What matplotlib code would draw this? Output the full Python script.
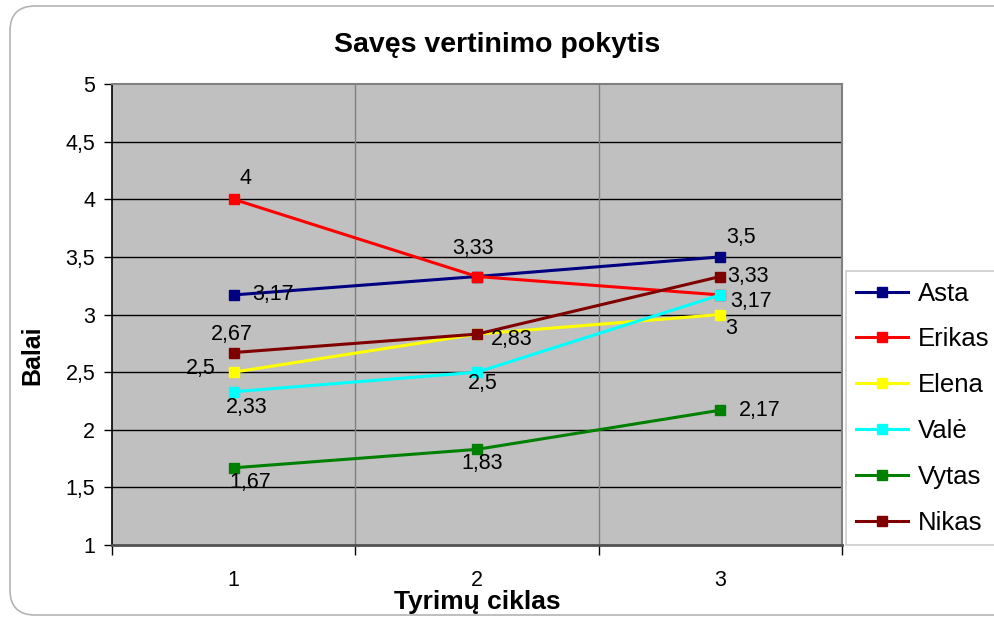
import matplotlib
matplotlib.use("Agg")
import matplotlib.pyplot as plt
from matplotlib.patches import FancyBboxPatch
from matplotlib.ticker import FixedLocator, NullFormatter

plt.rcParams['font.family'] = ['Liberation Sans', 'DejaVu Sans']

# data
cycles = [1, 2, 3]
names = ['Asta', 'Erikas', 'Elena', 'Valė', 'Vytas', 'Nikas']
asta = [3.17, 3.33, 3.5]
erikas = [4, 3.33, 3.17]
elena = [2.5, 2.83, 3]
vale = [2.33, 2.5, 3.17]
vytas = [1.67, 1.83, 2.17]
nikas = [2.67, 2.83, 3.33]
series = [asta, erikas, elena, vale, vytas, nikas]

colors = ['#000080', '#ff0000', '#ffff00', '#00ffff', '#008000', '#800000']

# label offsets in pixels (dx, dy), None = label hidden behind another one
offsets = [
    [(39, 0), None, (21, 19)],
    [(12, 21), (-4, 28), None],
    [(-33, 4), None, (11, -14)],
    [(13, -16), (6, -11), (31, -7)],
    [(17, -15), (5, -14), (39, 0)],
    [(-2, 18), (35, -5), (28, 0)],
]

fig = plt.figure(figsize=(9.94, 6.18), dpi=100)

# rounded chart border
border = FancyBboxPatch((0.10, 0.03), 10.2, 6.09, boxstyle="round,pad=0,rounding_size=0.25",
                        transform=fig.dpi_scale_trans, facecolor='white', edgecolor='#b4b4b4',
                        linewidth=1.2, zorder=-10)
fig.patches.append(border)

ax = fig.add_axes([0.1127, 0.1181, 0.7344, 0.7459])
ax.set_facecolor('#c0c0c0')

for vals, name, col, offs in zip(series, names, colors, offsets):
    ax.plot(cycles, vals, color=col, linewidth=2.2, marker='s', markersize=7,
            markeredgecolor=col, label=name, zorder=3)
    for x, v, off in zip(cycles, vals, offs):
        if off is None:
            continue
        txt = ('%g' % v).replace('.', ',')
        ax.annotate(txt, (x, v), xytext=off, textcoords='offset pixels',
                    ha='center', va='center', fontsize=15.5, zorder=4)

ax.set_xlim(0.5, 3.5)
ax.set_ylim(1, 5)
ax.set_yticks([1, 1.5, 2, 2.5, 3, 3.5, 4, 4.5, 5])
ax.set_yticklabels(['1', '1,5', '2', '2,5', '3', '3,5', '4', '4,5', '5'])
ax.set_xticks(cycles)
ax.set_xticklabels(['1', '2', '3'])
ax.xaxis.set_minor_locator(FixedLocator([0.5, 1.5, 2.5, 3.5]))
ax.xaxis.set_minor_formatter(NullFormatter())
ax.tick_params(axis='x', which='major', length=0, pad=18, labelsize=15.5)
ax.tick_params(axis='x', which='minor', length=7, width=1, color='black', direction='out')
ax.tick_params(axis='y', length=6, width=1, direction='out', labelsize=15.5, pad=6)

for y in [1.5, 2, 2.5, 3, 3.5, 4, 4.5]:
    ax.axhline(y, color='black', linewidth=1, zorder=1)
for x in [1.5, 2.5]:
    ax.axvline(x, color='#808080', linewidth=1, zorder=1)

ax.spines['top'].set_color('#808080')
ax.spines['right'].set_color('#808080')
ax.spines['top'].set_linewidth(1.5)
ax.spines['right'].set_linewidth(1.5)
ax.spines['left'].set_color('black')
ax.spines['left'].set_linewidth(1.2)
ax.spines['bottom'].set_color('#505050')
ax.spines['bottom'].set_linewidth(2)

fig.text(0.5, 1 - 45 / 618, 'Savęs vertinimo pokytis', fontsize=20.5, fontweight='bold',
         ha='center', va='center')
ax.set_xlabel('Tyrimų ciklas', fontsize=19, fontweight='bold')
ax.xaxis.set_label_coords(0.5, -(602 - 545) / 461)
ax.xaxis.label.set_va('center')
ax.set_ylabel('Balai', fontsize=18, fontweight='bold')
ax.yaxis.set_label_coords(-(112 - 32) / 730, (545 - 355) / 461)
ax.yaxis.label.set_va('center')

leg = fig.legend(loc='lower left', bbox_to_anchor=(0.851, 0.118), fontsize=18.5,
                 frameon=True, fancybox=False, handlelength=2.0, handletextpad=0.4,
                 labelspacing=0.85, borderpad=0.4, borderaxespad=0)
leg.get_frame().set_edgecolor('#c0c0c0')
leg.get_frame().set_linewidth(1.2)

fig.savefig('out.png', dpi=100)
